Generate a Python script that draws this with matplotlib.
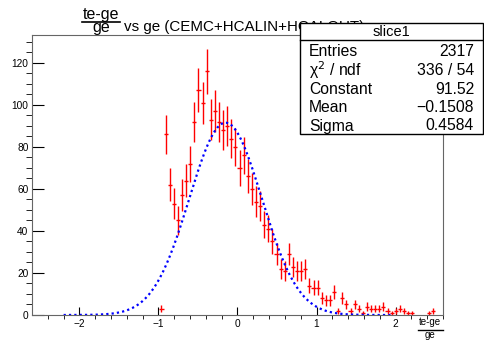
import numpy as np
import matplotlib
matplotlib.use('Agg')
import matplotlib.pyplot as plt
from matplotlib.patches import Rectangle
from matplotlib.lines import Line2D

plt.rcParams['font.family'] = ['Liberation Sans', 'DejaVu Sans']

W, H = 484, 340

# histogram definition (slice1)
x_lo, x_hi, n_bins = -2.6, 2.6, 100
first_bin = 31
counts = [3, 86, 62, 53, 45, 57, 64, 72, 92, 107, 101, 116, 93, 97, 92, 88, 90, 84,
          80, 70, 76, 66, 60, 54, 52, 43, 41, 35, 29, 22, 21, 29, 23, 21, 21, 22,
          14, 13, 13, 8, 7, 7, 11, 2, 8, 5, 2, 5, 3, 1, 4, 3, 3, 3, 4, 2, 1, 2, 3,
          2, 1, 1, 0, 0, 0, 1, 2]

# gaussian fit results
fit_const, fit_mean, fit_sigma = 91.52, -0.1508, 0.4584
fit_lo, fit_hi = -2.2, 1.95

stats_labels = ['Entries', '\u03c7$^{2}$ / ndf', 'Constant', 'Mean', 'Sigma']
stats_values = ['2317', '336 / 54', '91.52', '\u22120.1508', '0.4584']

y_max = 133.5


def fx(px):
    return px / W


def fy(py):
    return 1 - py / H


fig = plt.figure(figsize=(W / 100, H / 100), dpi=100)
ax = fig.add_axes([fx(32), fy(315), fx(443) - fx(32), fy(34.5) - fy(315)])

width = (x_hi - x_lo) / n_bins
full = np.zeros(n_bins)
full[first_bin:first_bin + len(counts)] = counts
centers = x_lo + width * (np.arange(n_bins) + 0.5)
mask = full > 0
ax.errorbar(centers[mask], full[mask], yerr=np.sqrt(full[mask]), xerr=width / 2,
            fmt='none', ecolor='red', elinewidth=1.0, capsize=0)

xf = np.linspace(fit_lo, fit_hi, 300)
yf = fit_const * np.exp(-0.5 * ((xf - fit_mean) / fit_sigma) ** 2)
ax.plot(xf, yf, color='blue', lw=1.6, ls=(0, (1, 1.4)))

ax.set_xlim(x_lo, x_hi)
ax.set_ylim(0, y_max)
ax.set_xticks([-2, -1, 0, 1, 2])
ax.set_xticks(np.arange(-2.4, 2.61, 0.2), minor=True)
ax.set_yticks(np.arange(0, 121, 20))
ax.set_yticks(np.arange(0, 131, 5), minor=True)
ax.tick_params(direction='in', labelsize=7.3, colors='black', width=0.8)
ax.tick_params(axis='x', which='major', length=5.8, pad=3)
ax.tick_params(axis='x', which='minor', length=2.9)
ax.tick_params(axis='y', which='major', length=8.6, pad=2.5)
ax.tick_params(axis='y', which='minor', length=4.3)
for s in ax.spines.values():
    s.set_color('#666666')
    s.set_linewidth(0.8)

# title with fraction
fig.text(fx(101), fy(14), 'te-ge', ha='center', va='center', fontsize=11.5)
fig.add_artist(Line2D([fx(82), fx(120)], [fy(22), fy(22)], color='black', lw=1.2))
fig.text(fx(101), fy(27.5), 'ge', ha='center', va='center', fontsize=11.5)
fig.text(fx(124), fy(30.7), 'vs ge (CEMC+HCALIN+HCALOUT)', ha='left',
         va='baseline', fontsize=10.9)

# x axis title (fraction), kept inside the canvas
fig.text(fx(430), fy(322), 'te-ge', ha='center', va='center', fontsize=7)
fig.add_artist(Line2D([fx(418), fx(443)], [fy(329.5), fy(329.5)], color='black',
                      lw=1))
fig.text(fx(430), fy(335), 'ge', ha='center', va='center', fontsize=7)

# stats box
fig.add_artist(Rectangle((fx(300), fy(134)), fx(483) - fx(300), fy(23) - fy(134),
                         transform=fig.transFigure, facecolor='white',
                         edgecolor='black', lw=1, zorder=5))
fig.add_artist(Line2D([fx(300), fx(483)], [fy(40), fy(40)], color='black', lw=1,
                      zorder=6))
fig.text(fx(391), fy(31.5), 'slice1', ha='center', va='center', fontsize=10.5,
         zorder=7)
row_y = [51.5, 70.5, 89.5, 108, 126]
for lab, val, ry in zip(stats_labels, stats_values, row_y):
    fig.text(fx(309), fy(ry), lab, ha='left', va='center', fontsize=11.3, zorder=7)
    fig.text(fx(474), fy(ry), val, ha='right', va='center', fontsize=11.3, zorder=7)

fig.savefig('out.png', dpi=100)
